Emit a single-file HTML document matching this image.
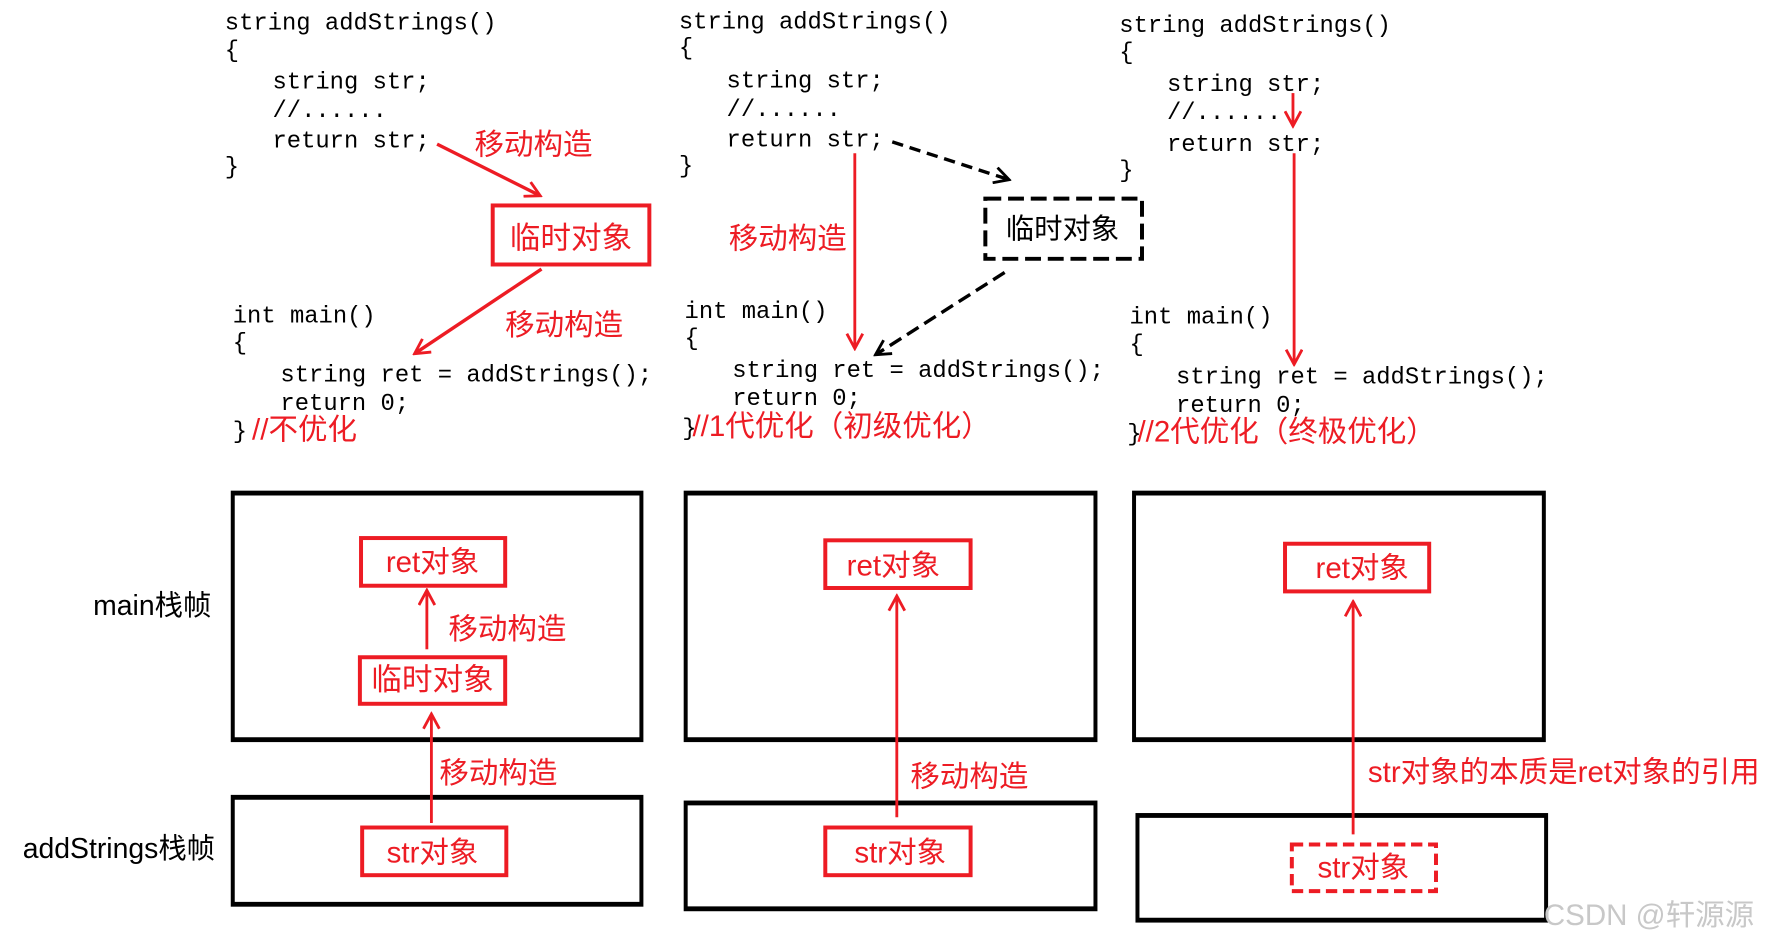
<!DOCTYPE html>
<html><head><meta charset="utf-8"><style>
html,body{margin:0;padding:0;background:#fff;}
svg{display:block;}
.c{font-family:"Liberation Mono","Noto Sans CJK SC",monospace;font-size:21px;fill:#000;}
.r{font-family:"Liberation Sans","Noto Sans CJK SC",sans-serif;font-size:26px;fill:#ed1c24;}
.k{font-family:"Liberation Sans","Noto Sans CJK SC",sans-serif;font-size:25px;fill:#000;}
</style></head><body>
<svg width="1780" height="945" viewBox="0 0 1568 832.5" xmlns="http://www.w3.org/2000/svg">
<defs>
<marker id="ar" markerWidth="16" markerHeight="16" refX="13" refY="8" orient="auto" markerUnits="userSpaceOnUse" viewBox="0 0 16 16"><path d="M1,1 L14,8 L1,15" fill="none" stroke="#ed1c24" stroke-width="2.5"/></marker>
<marker id="ab" markerWidth="16" markerHeight="16" refX="13" refY="8" orient="auto" markerUnits="userSpaceOnUse" viewBox="0 0 16 16"><path d="M1,1 L14,8 L1,15" fill="none" stroke="#000" stroke-width="2.5"/></marker>
</defs>
<g stroke-width="1">
<text class="c" x="198" y="26">string addStrings()</text>
<text class="c" x="198" y="50">{</text>
<text class="c" x="240" y="78">string str;</text>
<text class="c" x="240" y="103">//......</text>
<text class="c" x="240" y="130">return str;</text>
<text class="c" x="198" y="153">}</text>
<text class="c" x="205" y="284">int main()</text>
<text class="c" x="205" y="308">{</text>
<text class="c" x="247" y="336">string ret = addStrings();</text>
<text class="c" x="247" y="361">return 0;</text>
<text class="c" x="205" y="386">}</text>
<text class="r" x="222" y="387">//不优化</text>
<line x1="385" y1="127" x2="475" y2="172" stroke="#ed1c24" stroke-width="3" marker-end="url(#ar)"/>
<text class="r" x="418" y="136">移动构造</text>
<rect x="434" y="181" width="138" height="52" fill="none" stroke="#ed1c24" stroke-width="3.5"/>
<text class="r" x="503" y="219" text-anchor="middle" style="font-size:27px">临时对象</text>
<line x1="477" y1="237" x2="366" y2="311" stroke="#ed1c24" stroke-width="3" marker-end="url(#ar)"/>
<text class="r" x="445" y="295">移动构造</text>

<text class="c" x="598" y="25">string addStrings()</text>
<text class="c" x="598" y="48">{</text>
<text class="c" x="640" y="77">string str;</text>
<text class="c" x="640" y="102">//......</text>
<text class="c" x="640" y="129">return str;</text>
<text class="c" x="598" y="152">}</text>
<text class="c" x="603" y="280">int main()</text>
<text class="c" x="603" y="304">{</text>
<text class="c" x="645" y="332">string ret = addStrings();</text>
<text class="c" x="645" y="357">return 0;</text>
<text class="c" x="601" y="383">}</text>
<text class="r" x="610" y="384">//1代优化（初级优化）</text>
<line x1="753" y1="135" x2="753" y2="306" stroke="#ed1c24" stroke-width="2.5" marker-end="url(#ar)"/>
<text class="r" x="642" y="219">移动构造</text>
<line x1="786" y1="125" x2="888" y2="158" stroke="#000" stroke-width="3" stroke-dasharray="10,6" marker-end="url(#ab)"/>
<rect x="868" y="175" width="138" height="53" fill="none" stroke="#000" stroke-width="3.5" stroke-dasharray="14,6"/>
<text class="k" x="936" y="210" text-anchor="middle">临时对象</text>
<line x1="885" y1="240" x2="772" y2="312" stroke="#000" stroke-width="3" stroke-dasharray="12,6" marker-end="url(#ab)"/>

<text class="c" x="986" y="28">string addStrings()</text>
<text class="c" x="986" y="52">{</text>
<text class="c" x="1028" y="80">string str;</text>
<text class="c" x="1028" y="105">//......</text>
<text class="c" x="1028" y="133">return str;</text>
<text class="c" x="986" y="156">}</text>
<text class="c" x="995" y="285">int main()</text>
<text class="c" x="995" y="309">{</text>
<text class="c" x="1036" y="338">string ret = addStrings();</text>
<text class="c" x="1036" y="363">return 0;</text>
<text class="c" x="993" y="388">}</text>
<text class="r" x="1002" y="389">//2代优化（终极优化）</text>
<line x1="1139" y1="82" x2="1139" y2="110" stroke="#ed1c24" stroke-width="2.5" marker-end="url(#ar)"/>
<line x1="1140" y1="135" x2="1140" y2="320" stroke="#ed1c24" stroke-width="2.5" marker-end="url(#ar)"/>

<text class="k" x="82" y="542">main栈帧</text>
<text class="k" x="20" y="756">addStrings栈帧</text>
<g fill="none" stroke="#000">
<rect x="205" y="434" width="360" height="218" stroke-width="3.5"/>
<rect x="205" y="702" width="360" height="95" stroke-width="3.5"/>
<rect x="604" y="434" width="361" height="218" stroke-width="3.5"/>
<rect x="604" y="707" width="361" height="94" stroke-width="3.5"/>
<rect x="999" y="434" width="361" height="218" stroke-width="3.5"/>
<rect x="1002" y="718" width="360" height="93" stroke-width="3.5"/>
</g>
<g stroke="#000" stroke-width="3">
<line x1="204" y1="435" x2="566" y2="435"/><line x1="204" y1="651" x2="566" y2="651"/>
<line x1="204" y1="703" x2="566" y2="703"/><line x1="204" y1="796" x2="566" y2="796"/>
<line x1="603" y1="435" x2="966" y2="435"/><line x1="603" y1="651" x2="966" y2="651"/>
<line x1="603" y1="708" x2="966" y2="708"/><line x1="603" y1="800" x2="966" y2="800"/>
<line x1="998" y1="435" x2="1361" y2="435"/><line x1="998" y1="651" x2="1361" y2="651"/>
<line x1="1001" y1="719" x2="1363" y2="719"/><line x1="1001" y1="810" x2="1363" y2="810"/>
</g>

<rect x="318" y="474" width="127" height="42" fill="none" stroke="#ed1c24" stroke-width="3.5"/>
<text class="r" x="381" y="504" text-anchor="middle">ret对象</text>
<rect x="317" y="579" width="128" height="41" fill="none" stroke="#ed1c24" stroke-width="3.5"/>
<text class="r" x="381" y="608" text-anchor="middle" style="font-size:27px">临时对象</text>
<rect x="319" y="729" width="127" height="42" fill="none" stroke="#ed1c24" stroke-width="3.5"/>
<text class="r" x="381" y="760" text-anchor="middle">str对象</text>
<line x1="376" y1="572" x2="376" y2="521" stroke="#ed1c24" stroke-width="2.5" marker-end="url(#ar)"/>
<text class="r" x="395" y="563">移动构造</text>
<line x1="380" y1="725" x2="380" y2="630" stroke="#ed1c24" stroke-width="2.5" marker-end="url(#ar)"/>
<text class="r" x="387" y="690">移动构造</text>

<rect x="727" y="476" width="128" height="42" fill="none" stroke="#ed1c24" stroke-width="3.5"/>
<text class="r" x="787" y="507" text-anchor="middle">ret对象</text>
<rect x="727" y="729" width="128" height="42" fill="none" stroke="#ed1c24" stroke-width="3.5"/>
<text class="r" x="793" y="760" text-anchor="middle">str对象</text>
<line x1="790" y1="720" x2="790" y2="526" stroke="#ed1c24" stroke-width="2.5" marker-end="url(#ar)"/>
<text class="r" x="802" y="693">移动构造</text>

<rect x="1132" y="479" width="127" height="42" fill="none" stroke="#ed1c24" stroke-width="3.5"/>
<text class="r" x="1200" y="509" text-anchor="middle">ret对象</text>
<rect x="1138" y="744" width="127" height="41" fill="none" stroke="#ed1c24" stroke-width="3.5" stroke-dasharray="10,5"/>
<text class="r" x="1201" y="773" text-anchor="middle">str对象</text>
<line x1="1192" y1="735" x2="1192" y2="531" stroke="#ed1c24" stroke-width="2.5" marker-end="url(#ar)"/>
<text class="r" x="1205" y="689">str对象的本质是ret对象的引用</text>

<text x="1360" y="815" style="font-family:'Liberation Sans','Noto Sans CJK SC',sans-serif;font-size:26px;fill:#c8c8c8">CSDN @轩源源</text>
</g>
</svg>
</body></html>
